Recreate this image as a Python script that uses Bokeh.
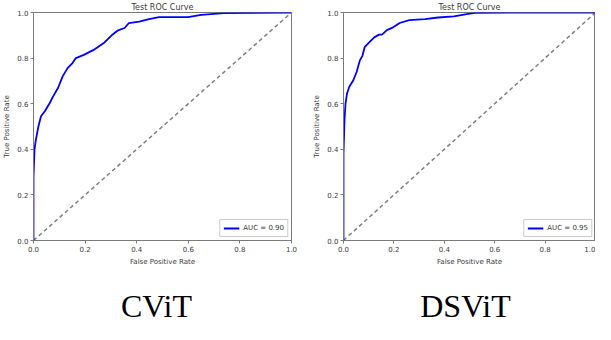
from bokeh.plotting import figure
from bokeh.layouts import row, column
from bokeh.models import Range1d, FixedTicker, Legend, LegendItem, PrintfTickFormatter, Label
from bokeh.embed import file_html
from bokeh.resources import INLINE

# ---- data ----
cvit_fpr = [0.0, 0.0, 0.004, 0.009, 0.019, 0.029, 0.044, 0.063, 0.076, 0.095, 0.113,
            0.132, 0.151, 0.164, 0.195, 0.233, 0.271, 0.303, 0.328, 0.353, 0.369,
            0.41, 0.448, 0.486, 0.599, 0.65, 0.738, 1.0]
cvit_tpr = [0.0, 0.28, 0.40, 0.44, 0.50, 0.545, 0.567, 0.603, 0.632, 0.669, 0.72,
            0.756, 0.778, 0.80, 0.814, 0.836, 0.865, 0.90, 0.922, 0.932, 0.953,
            0.96, 0.971, 0.98, 0.98, 0.99, 0.997, 1.0]
dsvit_fpr = [0.0, 0.0, 0.004, 0.008, 0.014, 0.023, 0.039, 0.052, 0.065, 0.075, 0.084,
             0.103, 0.122, 0.141, 0.153, 0.172, 0.197, 0.223, 0.261, 0.324, 0.375,
             0.438, 0.489, 0.527, 1.0]
dsvit_tpr = [0.0, 0.38, 0.53, 0.60, 0.645, 0.674, 0.703, 0.739, 0.79, 0.81, 0.848,
             0.87, 0.891, 0.903, 0.903, 0.923, 0.935, 0.954, 0.967, 0.971, 0.978,
             0.983, 0.993, 0.999, 1.0]
chance = [0.0, 1.0]
ticks = [0.0, 0.2, 0.4, 0.6, 0.8, 1.0]
panels = [("CViT", "AUC = 0.90", cvit_fpr, cvit_tpr),
          ("DSViT", "AUC = 0.95", dsvit_fpr, dsvit_tpr)]

FONT = "DejaVu Sans"
AX = "#7a7a7a"
TXT = "#3a3a3a"
PLOT_H = 268
CAP_H = 56


def make_panel(auc, fpr, tpr, width, bl, br):
    p = figure(width=width, height=PLOT_H, output_backend="svg", toolbar_location=None,
               x_range=Range1d(0, 1), y_range=Range1d(0, 1),
               min_border_left=bl, min_border_right=br, min_border_top=10,
               min_border_bottom=28)
    p.title.text = "Test ROC Curve"
    p.title.align = "center"
    p.title.text_font = FONT
    p.title.text_font_size = "8px"
    p.title.text_font_style = "normal"
    p.title.text_color = TXT
    p.title.standoff = 1
    p.xgrid.visible = False
    p.ygrid.visible = False
    p.outline_line_color = AX
    p.outline_line_alpha = 1
    p.background_fill_color = "white"
    p.border_fill_color = "white"
    for ax, lbl in ((p.xaxis[0], "False Positive Rate"), (p.yaxis[0], "True Positive Rate")):
        ax.ticker = FixedTicker(ticks=ticks)
        ax.formatter = PrintfTickFormatter(format="%.1f")
        ax.axis_label = lbl
        ax.axis_label_text_font = FONT
        ax.axis_label_text_font_size = "7px"
        ax.axis_label_text_font_style = "normal"
        ax.axis_label_text_color = TXT
        ax.axis_label_standoff = 3
        ax.major_label_text_font = FONT
        ax.major_label_text_font_size = "7px"
        ax.major_label_text_color = TXT
        ax.major_label_standoff = 2
        ax.major_tick_in = 0
        ax.major_tick_out = 3
        ax.major_tick_line_color = AX
        ax.minor_tick_line_color = None
        ax.axis_line_color = AX
    p.yaxis[0].major_label_orientation = "horizontal"

    p.line(chance, chance, line_color="gray", line_width=1.5, line_dash="4 3")
    r = p.line(fpr, tpr, line_color="blue", line_width=1.8)
    leg = Legend(items=[LegendItem(label=auc, renderers=[r])], location="bottom_right",
                 label_text_font=FONT, label_text_font_size="7px", label_text_color=TXT,
                 border_line_color="#cccccc", border_line_alpha=1,
                 glyph_width=16, glyph_height=10, label_height=10,
                 padding=3, spacing=0, margin=3, label_standoff=4)
    p.add_layout(leg, "center")
    return p


def make_caption(name, width, cx):
    c = figure(width=width, height=CAP_H, output_backend="svg", toolbar_location=None,
               x_range=Range1d(0, width), y_range=Range1d(0, CAP_H),
               min_border=0, x_axis_type=None, y_axis_type=None)
    c.xgrid.visible = False
    c.ygrid.visible = False
    c.outline_line_color = None
    c.add_layout(Label(x=cx, y=19, text=name, text_align="center", text_baseline="middle",
                       text_font="Liberation Serif", text_font_size="32px",
                       text_color="black"))
    return c


left = make_panel(*panels[0][1:], width=310, bl=27, br=19)
right = make_panel(*panels[1][1:], width=285, bl=28, br=0)
cap_left = make_caption(panels[0][0], 310, 156)
cap_right = make_caption(panels[1][0], 285, 155)
layout = column(row(left, right), row(cap_left, cap_right))

open("out.html", "w").write(file_html(layout, INLINE))
